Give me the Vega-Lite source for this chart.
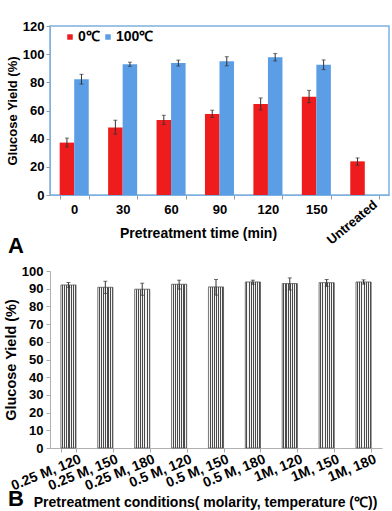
{
  "$schema": "https://vega.github.io/schema/vega-lite/v6.json",
  "background": "white",
  "padding": {"left": 3, "top": 19, "right": 5, "bottom": 0},
  "config": {
    "font": "Liberation Sans",
    "view": {"stroke": null},
    "axis": {"grid": false, "labelFont": "Liberation Sans", "titleFont": "Liberation Sans", "labelColor": "black", "titleColor": "black"}
  },
  "bounds": "flush",
  "spacing": 76,
  "vconcat": [
    {
      "width": 339,
      "height": 169,
      "view": {"stroke": "#7eb0e0", "strokeWidth": 1.5},
      "title": {"text": "A", "orient": "bottom", "anchor": "start", "frame": "group", "dx": -42, "dy": -11, "offset": 0, "fontSize": 22, "fontWeight": "bold", "font": "Liberation Sans", "color": "black"},
      "data": {"values": [
        {"time": "0", "temp": "0℃", "y": 37.2, "low": 34.1, "high": 40.4},
        {"time": "0", "temp": "100℃", "y": 82.2, "low": 78.8, "high": 85.7},
        {"time": "30", "temp": "0℃", "y": 48.0, "low": 43.2, "high": 53.1},
        {"time": "30", "temp": "100℃", "y": 92.8, "low": 91.4, "high": 94.3},
        {"time": "60", "temp": "0℃", "y": 53.3, "low": 50.1, "high": 56.6},
        {"time": "60", "temp": "100℃", "y": 93.7, "low": 91.6, "high": 95.8},
        {"time": "90", "temp": "0℃", "y": 57.5, "low": 55.1, "high": 60.2},
        {"time": "90", "temp": "100℃", "y": 95.0, "low": 91.7, "high": 98.2},
        {"time": "120", "temp": "0℃", "y": 64.6, "low": 60.4, "high": 68.9},
        {"time": "120", "temp": "100℃", "y": 97.8, "low": 95.2, "high": 100.4},
        {"time": "150", "temp": "0℃", "y": 69.8, "low": 65.5, "high": 74.3},
        {"time": "150", "temp": "100℃", "y": 92.5, "low": 89.0, "high": 95.9},
        {"time": "Untreated", "temp": "0℃", "y": 23.9, "low": 21.2, "high": 26.3}
      ]},
      "encoding": {
        "x": {
          "field": "time", "type": "nominal", "sort": null,
          "scale": {"domain": ["0", "30", "60", "90", "120", "150", "Untreated"], "paddingInner": 0.4, "paddingOuter": 0.2},
          "axis": {
            "title": "Pretreatment time (min)", "titleFontSize": 14, "titleFontWeight": "bold",
            "titleX": 148, "titleY": 31,
            "labelAngle": 0, "labelFontSize": 13, "labelFontWeight": "bold", "labelPadding": 4,
            "labelExpr": "datum.value === 'Untreated' ? '' : datum.label",
            "tickBand": "extent", "tickSize": 4, "tickColor": "#999999", "domainColor": "#7eb0e0"
          }
        }
      },
      "layer": [
        {
          "mark": {"type": "bar"},
          "encoding": {
            "xOffset": {"field": "temp", "type": "nominal", "scale": {"domain": ["0℃", "100℃"], "paddingInner": 0, "paddingOuter": 0}},
            "y": {
              "field": "y", "type": "quantitative",
              "scale": {"domain": [0, 120], "nice": false},
              "axis": {"title": "Glucose Yield (%)", "titleFontSize": 13, "titleFontWeight": "bold", "titlePadding": 3, "values": [0, 20, 40, 60, 80, 100, 120], "labelFontSize": 13, "labelFontWeight": "bold", "labelPadding": 2, "tickSize": 4, "tickColor": "#999999", "domainColor": "#7eb0e0"}
            },
            "color": {
              "field": "temp", "type": "nominal",
              "scale": {"domain": ["0℃", "100℃"], "range": ["#ee1c1c", "#5b9ee6"]},
              "legend": {
                "title": null, "orient": "none", "legendX": 13, "legendY": 4, "direction": "horizontal",
                "symbolType": "square", "symbolSize": 30, "symbolStrokeWidth": 0,
                "labelFontSize": 14, "labelFontWeight": "bold", "labelFont": "Liberation Sans", "labelColor": "black",
                "columnPadding": 1, "labelOffset": 1
              }
            }
          }
        },
        {
          "mark": {"type": "rule", "color": "#333333", "strokeWidth": 1},
          "encoding": {
            "xOffset": {"field": "temp", "type": "nominal"},
            "y": {"field": "low", "type": "quantitative", "axis": {"title": "Glucose Yield (%)", "titleFontSize": 13, "titleFontWeight": "bold", "titlePadding": 3, "values": [0, 20, 40, 60, 80, 100, 120], "labelFontSize": 13, "labelFontWeight": "bold", "labelPadding": 2, "tickSize": 4, "tickColor": "#999999", "domainColor": "#7eb0e0"}},
            "y2": {"field": "high"}
          }
        },
        {
          "mark": {"type": "tick", "orient": "horizontal", "size": 4, "thickness": 1, "color": "#333333"},
          "encoding": {
            "xOffset": {"field": "temp", "type": "nominal"},
            "y": {"field": "high", "type": "quantitative", "axis": {"title": "Glucose Yield (%)", "titleFontSize": 13, "titleFontWeight": "bold", "titlePadding": 3, "values": [0, 20, 40, 60, 80, 100, 120], "labelFontSize": 13, "labelFontWeight": "bold", "labelPadding": 2, "tickSize": 4, "tickColor": "#999999", "domainColor": "#7eb0e0"}}
          }
        },
        {
          "mark": {"type": "tick", "orient": "horizontal", "size": 4, "thickness": 1, "color": "#333333"},
          "encoding": {
            "xOffset": {"field": "temp", "type": "nominal"},
            "y": {"field": "low", "type": "quantitative", "axis": {"title": "Glucose Yield (%)", "titleFontSize": 13, "titleFontWeight": "bold", "titlePadding": 3, "values": [0, 20, 40, 60, 80, 100, 120], "labelFontSize": 13, "labelFontWeight": "bold", "labelPadding": 2, "tickSize": 4, "tickColor": "#999999", "domainColor": "#7eb0e0"}}
          }
        },
        {
          "data": {"values": [{"time": "Untreated", "base": 0}]},
          "mark": {"type": "text", "angle": -40, "align": "right", "baseline": "top", "dx": 3, "dy": 7, "fontSize": 13, "fontWeight": "bold", "font": "Liberation Sans", "color": "black"},
          "encoding": {
            "text": {"field": "time"},
            "y": {"field": "base", "type": "quantitative", "axis": {"title": "Glucose Yield (%)", "titleFontSize": 13, "titleFontWeight": "bold", "titlePadding": 3, "values": [0, 20, 40, 60, 80, 100, 120], "labelFontSize": 13, "labelFontWeight": "bold", "labelPadding": 2, "tickSize": 4, "tickColor": "#999999", "domainColor": "#7eb0e0"}}
          }
        }
      ]
    },
    {
      "width": 332,
      "height": 177,
      "title": {"text": "B", "orient": "bottom", "anchor": "start", "frame": "group", "dx": -42, "dy": -20, "offset": 0, "fontSize": 22, "fontWeight": "bold", "font": "Liberation Sans", "color": "black"},
      "data": {"values": [
        {"cond": "0.25 M, 120", "y": 92.1, "low": 90.8, "high": 93.5},
        {"cond": "0.25 M, 150", "y": 90.8, "low": 87.3, "high": 94.2},
        {"cond": "0.25 M, 180", "y": 89.7, "low": 86.3, "high": 93.1},
        {"cond": "0.5 M, 120", "y": 92.5, "low": 89.8, "high": 94.8},
        {"cond": "0.5 M, 150", "y": 91.0, "low": 86.4, "high": 95.2},
        {"cond": "0.5 M, 180", "y": 93.8, "low": 92.5, "high": 94.8},
        {"cond": "1M, 120", "y": 92.9, "low": 89.3, "high": 96.1},
        {"cond": "1M, 150", "y": 93.4, "low": 91.3, "high": 95.2},
        {"cond": "1M, 180", "y": 93.8, "low": 92.6, "high": 95.0}
      ]},
      "encoding": {
        "x": {
          "field": "cond", "type": "nominal", "sort": null,
          "scale": {"paddingInner": 0.59, "paddingOuter": 0.295},
          "axis": {
            "title": "Pretreatment conditions( molarity, temperature (℃))", "titleFontSize": 14, "titleFontWeight": "bold",
            "titleX": 155, "titleY": 47,
            "labelAngle": -22, "labelAlign": "right", "labelBaseline": "top", "labelOffset": 9,
            "labelFontSize": 14, "labelFontWeight": "bold", "labelPadding": 0,
            "tickBand": "extent", "tickSize": 4, "tickColor": "#aaaaaa", "domainColor": "#b0b0b0"
          }
        }
      },
      "layer": [
        {
          "mark": {
            "type": "bar", "stroke": "#555555", "strokeWidth": 0.8,
            "fill": {"gradient": "linear", "x1": 0, "x2": 1, "y1": 0, "y2": 0, "stops": [
              {"offset": 0, "color": "#f4f4f4"}, {"offset": 0.0714, "color": "#f4f4f4"},
              {"offset": 0.0714, "color": "#4a4a4a"}, {"offset": 0.1429, "color": "#4a4a4a"},
              {"offset": 0.1429, "color": "#f4f4f4"}, {"offset": 0.2143, "color": "#f4f4f4"},
              {"offset": 0.2143, "color": "#4a4a4a"}, {"offset": 0.2857, "color": "#4a4a4a"},
              {"offset": 0.2857, "color": "#f4f4f4"}, {"offset": 0.3571, "color": "#f4f4f4"},
              {"offset": 0.3571, "color": "#4a4a4a"}, {"offset": 0.4286, "color": "#4a4a4a"},
              {"offset": 0.4286, "color": "#f4f4f4"}, {"offset": 0.5, "color": "#f4f4f4"},
              {"offset": 0.5, "color": "#4a4a4a"}, {"offset": 0.5714, "color": "#4a4a4a"},
              {"offset": 0.5714, "color": "#f4f4f4"}, {"offset": 0.6429, "color": "#f4f4f4"},
              {"offset": 0.6429, "color": "#4a4a4a"}, {"offset": 0.7143, "color": "#4a4a4a"},
              {"offset": 0.7143, "color": "#f4f4f4"}, {"offset": 0.7857, "color": "#f4f4f4"},
              {"offset": 0.7857, "color": "#4a4a4a"}, {"offset": 0.8571, "color": "#4a4a4a"},
              {"offset": 0.8571, "color": "#f4f4f4"}, {"offset": 0.9286, "color": "#f4f4f4"},
              {"offset": 0.9286, "color": "#4a4a4a"}, {"offset": 1, "color": "#4a4a4a"}
            ]}
          },
          "encoding": {
            "y": {
              "field": "y", "type": "quantitative",
              "scale": {"domain": [0, 100], "nice": false},
              "axis": {"title": "Glucose Yield (%)", "titleFontSize": 14.5, "titleFontWeight": "bold", "titlePadding": 3, "values": [0, 10, 20, 30, 40, 50, 60, 70, 80, 90, 100], "labelFontSize": 13, "labelFontWeight": "bold", "labelPadding": 3, "tickSize": 4, "tickColor": "#aaaaaa", "domainColor": "#b0b0b0"}
            }
          }
        },
        {
          "mark": {"type": "rule", "color": "#333333", "strokeWidth": 1},
          "encoding": {
            "y": {"field": "low", "type": "quantitative", "axis": {"title": "Glucose Yield (%)", "titleFontSize": 14.5, "titleFontWeight": "bold", "titlePadding": 3, "values": [0, 10, 20, 30, 40, 50, 60, 70, 80, 90, 100], "labelFontSize": 13, "labelFontWeight": "bold", "labelPadding": 3, "tickSize": 4, "tickColor": "#aaaaaa", "domainColor": "#b0b0b0"}},
            "y2": {"field": "high"}
          }
        },
        {
          "mark": {"type": "tick", "orient": "horizontal", "size": 4, "thickness": 1, "color": "#333333"},
          "encoding": {
            "y": {"field": "high", "type": "quantitative", "axis": {"title": "Glucose Yield (%)", "titleFontSize": 14.5, "titleFontWeight": "bold", "titlePadding": 3, "values": [0, 10, 20, 30, 40, 50, 60, 70, 80, 90, 100], "labelFontSize": 13, "labelFontWeight": "bold", "labelPadding": 3, "tickSize": 4, "tickColor": "#aaaaaa", "domainColor": "#b0b0b0"}}
          }
        },
        {
          "mark": {"type": "tick", "orient": "horizontal", "size": 4, "thickness": 1, "color": "#333333"},
          "encoding": {
            "y": {"field": "low", "type": "quantitative", "axis": {"title": "Glucose Yield (%)", "titleFontSize": 14.5, "titleFontWeight": "bold", "titlePadding": 3, "values": [0, 10, 20, 30, 40, 50, 60, 70, 80, 90, 100], "labelFontSize": 13, "labelFontWeight": "bold", "labelPadding": 3, "tickSize": 4, "tickColor": "#aaaaaa", "domainColor": "#b0b0b0"}}
          }
        }
      ]
    }
  ]
}
